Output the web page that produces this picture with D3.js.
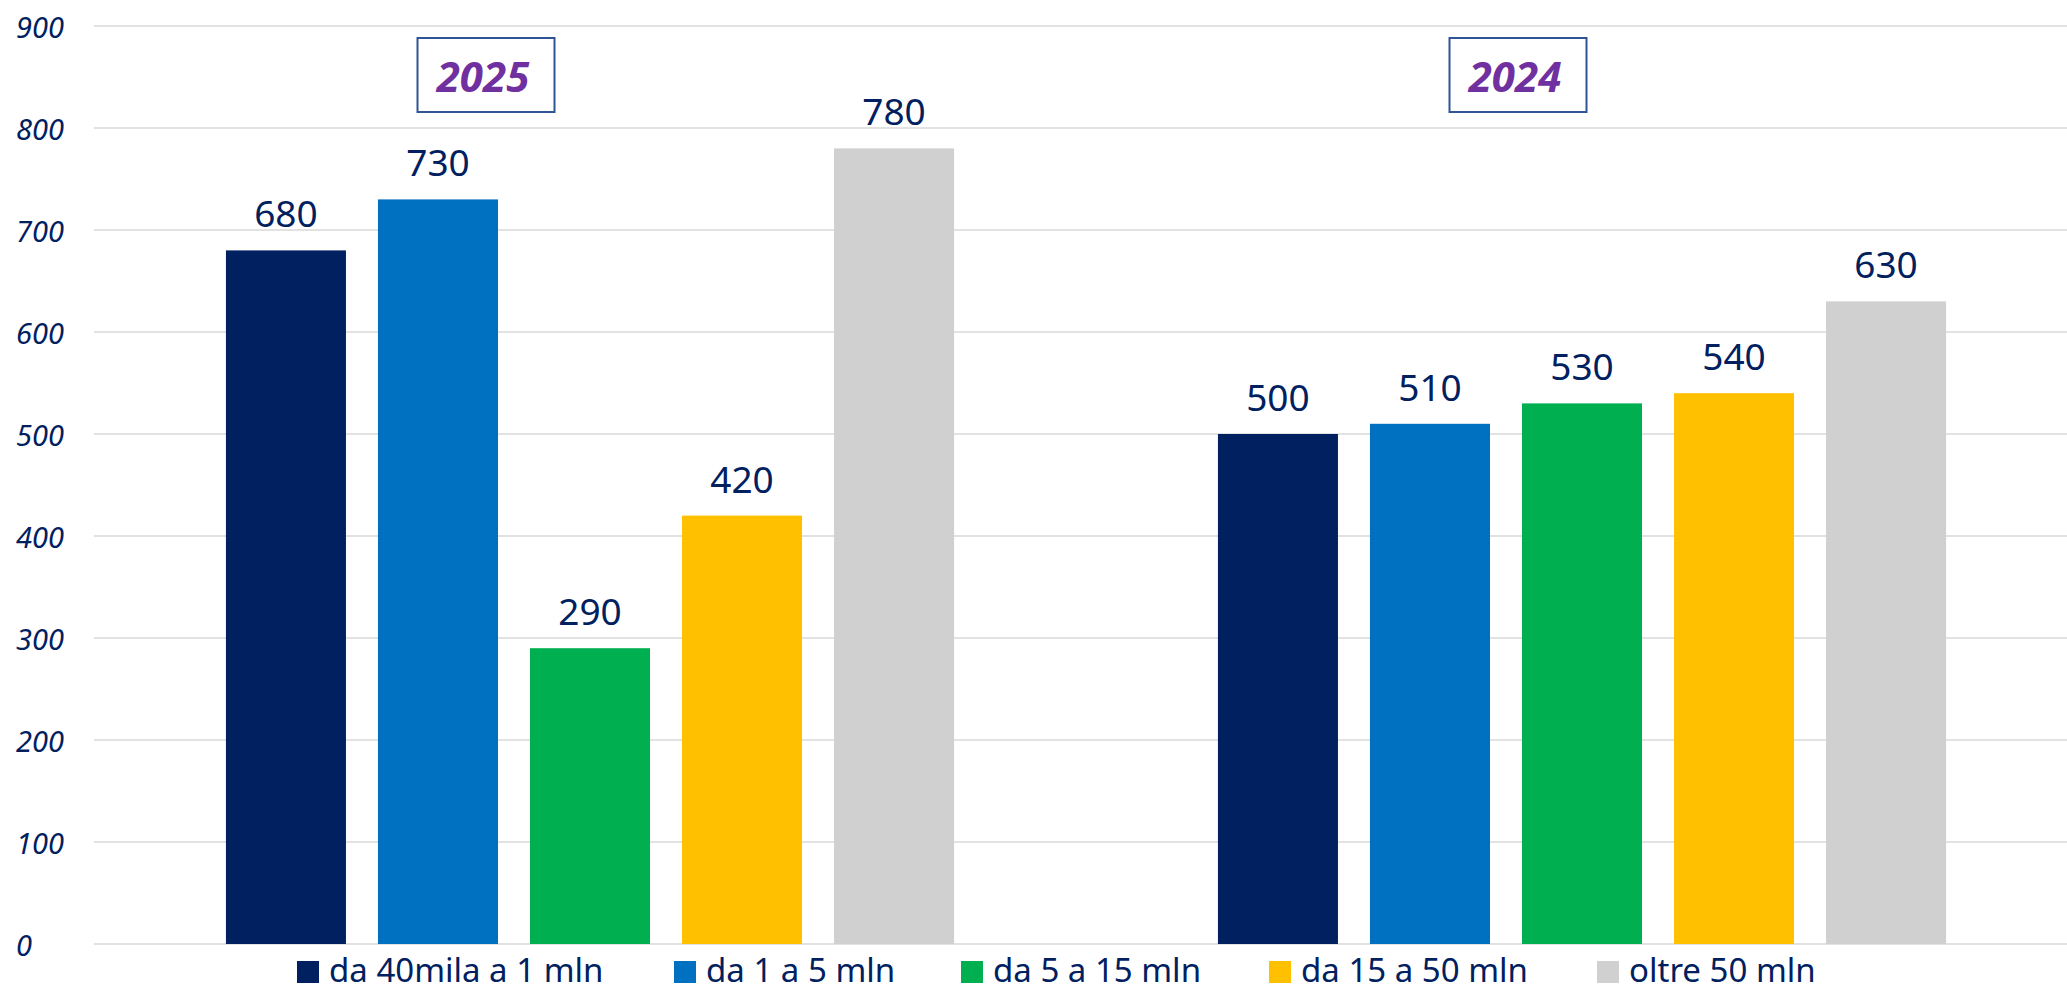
<!DOCTYPE html>
<html>
<head>
<meta charset="utf-8">
<script src="https://cdn.jsdelivr.net/npm/d3@7"></script>
<style>
  html, body { margin: 0; padding: 0; background: #ffffff; }
  svg { display: block; }
</style>
</head>
<body>
<svg id="chart" width="2067" height="992"></svg>
<script>
// ---- data ----
const groups = ["2025", "2024"];
const series = ["da 40mila a 1 mln", "da 1 a 5 mln", "da 5 a 15 mln", "da 15 a 50 mln", "oltre 50 mln"];
const values2025 = [680, 730, 290, 420, 780];
const values2024 = [500, 510, 530, 540, 630];
const yTicks = [0, 100, 200, 300, 400, 500, 600, 700, 800, 900];
const colors = ["#002060", "#0070C0", "#00B050", "#FFC000", "#D0D0D0"];

const valuesByGroup = { "2025": values2025, "2024": values2024 };

// ---- layout ----
const W = 2067, H = 992;
const plot = { left: 94, right: 2078, top: 26, bottom: 944 };
const navy = "#002060";
const font = "'Noto Sans', 'Open Sans', sans-serif";

const svg = d3.select("#chart");

const y = d3.scaleLinear().domain([0, 900]).range([plot.bottom, plot.top]);
const x0 = d3.scaleBand().domain(groups).range([plot.left, plot.right]).padding(0);
const bw = x0.bandwidth();
const innerPad = bw * 0.133;
const x1 = d3.scaleBand().domain(series).range([innerPad, bw - innerPad]).paddingInner(32 / 152).paddingOuter(0);

// gridlines
svg.append("g").selectAll("line").data(yTicks).join("line")
  .attr("x1", plot.left).attr("x2", plot.right)
  .attr("y1", d => y(d)).attr("y2", d => y(d))
  .attr("stroke", "#d9d9d9").attr("stroke-width", 1.5);

// y axis labels
svg.append("g").selectAll("text").data(yTicks).join("text")
  .attr("x", 16).attr("y", d => y(d))
  .attr("dominant-baseline", "central")
  .attr("font-family", font).attr("font-style", "italic")
  .attr("font-size", 29).attr("fill", navy)
  .text(d => d);

// bars
const gGroups = svg.append("g").selectAll("g").data(groups).join("g")
  .attr("transform", g => `translate(${x0(g)},0)`);

gGroups.selectAll("rect").data(g => series.map((s, i) => ({ s, i, v: valuesByGroup[g][i] }))).join("rect")
  .attr("x", d => x1(d.s))
  .attr("width", x1.bandwidth())
  .attr("y", d => y(d.v))
  .attr("height", d => y(0) - y(d.v))
  .attr("fill", d => colors[d.i]);

gGroups.selectAll("text.val").data(g => series.map((s, i) => ({ s, i, v: valuesByGroup[g][i] }))).join("text")
  .attr("class", "val")
  .attr("x", d => x1(d.s) + x1.bandwidth() / 2)
  .attr("y", d => y(d.v) - 23)
  .attr("text-anchor", "middle")
  .attr("font-family", font).attr("font-size", 37).attr("fill", navy)
  .text(d => d.v);

// year boxes (annotations)
const yearBoxOffsets = { "2025": -104, "2024": -64 };
const boxW = 137, boxH = 74, boxTop = 38;
groups.forEach(g => {
  const cx = x0(g) + bw / 2 + yearBoxOffsets[g];
  svg.append("rect")
    .attr("x", cx - boxW / 2).attr("y", boxTop)
    .attr("width", boxW).attr("height", boxH)
    .attr("fill", "#ffffff").attr("stroke", "#2F5597").attr("stroke-width", 2);
  svg.append("text")
    .attr("x", cx - 3).attr("y", boxTop + 54)
    .attr("text-anchor", "middle")
    .attr("font-family", font).attr("font-weight", "bold").attr("font-style", "italic")
    .attr("font-size", 42).attr("fill", "#7030A0")
    .text(g);
});

// legend
const legendX = [297, 674, 961, 1269, 1597];
const legend = svg.append("g").selectAll("g").data(series).join("g")
  .attr("transform", (d, i) => `translate(${legendX[i]},0)`);
legend.append("rect")
  .attr("x", 0).attr("y", 961).attr("width", 22).attr("height", 22)
  .attr("fill", (d, i) => colors[i]);
legend.append("text")
  .attr("x", 32).attr("y", 982)
  .attr("font-family", font).attr("font-size", 33).attr("fill", navy)
  .text(d => d);
</script>
</body>
</html>
